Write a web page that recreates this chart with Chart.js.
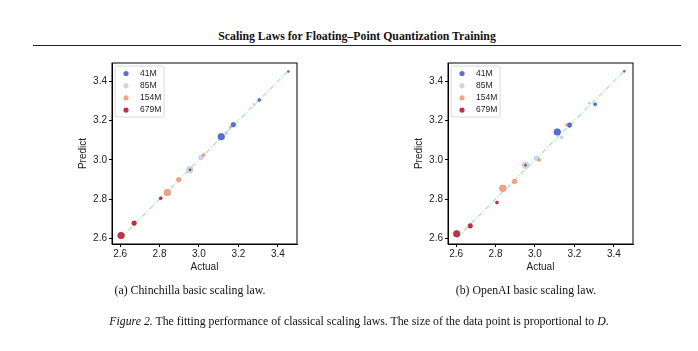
<!DOCTYPE html>
<html>
<head>
<meta charset="utf-8">
<script src="https://cdn.jsdelivr.net/npm/chart.js@4.4.1/dist/chart.umd.min.js"></script>
<style>
  body { margin: 0; background: #fff; width: 698px; height: 351px; position: relative; overflow: hidden; }
  .serif { font-family: "Liberation Serif", "DejaVu Serif", serif; color: #111; position: absolute; white-space: nowrap; }
  #title { left: 33px; width: 648px; top: 29px; text-align: center; font-weight: bold; font-size: 11.8px; }
  #rule { position: absolute; left: 33px; width: 648px; top: 45px; height: 1.3px; background: #222; }
  .cap { font-size: 11.8px; top: 283px; transform: translateX(-50%); }
  #fig { left: 359px; top: 314px; font-size: 11.8px; transform: translateX(-50%); }
  canvas { position: absolute; }
</style>
</head>
<body>
<div id="title" class="serif">Scaling Laws for Floating–Point Quantization Training</div>
<div id="rule"></div>
<canvas id="chartA" width="247" height="229" style="left:60px; top:55px; width:247px; height:229px;"></canvas>
<canvas id="chartB" width="247" height="229" style="left:396px; top:55px; width:247px; height:229px;"></canvas>
<div class="serif cap" style="left:190px;">(a) Chinchilla basic scaling law.</div>
<div class="serif cap" style="left:526px;">(b) OpenAI basic scaling law.</div>
<div id="fig" class="serif"><i>Figure 2.</i> The fitting performance of classical scaling laws. The size of the data point is proportional to <i>D</i>.</div>

<script>
// model sizes (legend) and their colours
const models = ['41M', '85M', '154M', '679M'];
const modelColors = ['#5a6fd1', '#cdd7ee', '#f2a487', '#c3304a'];
const edgeColors = ['#3d52b8', '#aebde0', '#e08866', '#a61f38'];

// marker radius for each data size D (smallest -> largest)
const dataSizes = [1.0, 1.5, 2.3, 3.3];

// (a) Chinchilla: actual / predicted loss per model, ordered by D
const chinActual = [
  [3.453, 3.306, 3.174, 3.113],
  [3.280, 3.138, 3.010, 2.953],
  [3.160, 3.023, 2.897, 2.840],
  [2.955, 2.806, 2.671, 2.605]
];
const chinPredict = [
  [3.450, 3.305, 3.179, 3.118],
  [3.282, 3.137, 3.012, 2.950],
  [3.167, 3.025, 2.899, 2.834],
  [2.950, 2.805, 2.678, 2.615]
];

// (b) OpenAI
const oaiActual = [
  [3.453, 3.305, 3.175, 3.113],
  [3.276, 3.135, 3.008, 2.952],
  [3.160, 3.021, 2.896, 2.837],
  [2.952, 2.807, 2.672, 2.603]
];
const oaiPredict = [
  [3.451, 3.283, 3.177, 3.142],
  [3.288, 3.115, 3.008, 2.973],
  [3.179, 3.000, 2.890, 2.855],
  [2.973, 2.783, 2.664, 2.624]
];

// y = x reference line ends
const diagLine = [2.605, 3.455];

const xRange = [2.559, 3.497];
const yRange = [2.572, 3.493];
const tickVals = [2.6, 2.8, 3.0, 3.2, 3.4];

const tickFont = { family: '"Liberation Sans", Arial, sans-serif', size: 10 };

// frame around plot + legend inside the top-left corner
const framePlugin = {
  id: 'frame',
  afterDraw(chart) {
    const { ctx, chartArea: a } = chart;
    ctx.save();
    ctx.strokeStyle = '#000';
    ctx.lineWidth = 1;
    ctx.strokeRect(a.left, a.top, a.right - a.left, a.bottom - a.top);

    // legend box
    const bx = a.left + 3, by = a.top + 3, bw = 49, bh = 51;
    ctx.fillStyle = 'rgba(255,255,255,0.85)';
    ctx.strokeStyle = '#d0d0d0';
    ctx.lineWidth = 0.8;
    ctx.beginPath();
    ctx.roundRect(bx, by, bw, bh, 2);
    ctx.fill();
    ctx.stroke();
    ctx.font = '8.5px "Liberation Sans", Arial, sans-serif';
    ctx.textBaseline = 'middle';
    models.forEach((m, i) => {
      const y = by + 7.5 + i * 12.2;
      ctx.fillStyle = modelColors[i];
      ctx.beginPath();
      ctx.arc(bx + 11, y, 2.6, 0, Math.PI * 2);
      ctx.fill();
      ctx.fillStyle = '#222';
      ctx.fillText(m, bx + 25, y);
    });
    ctx.restore();
  }
};

function buildChart(id, actual, predict) {
  const datasets = [];
  models.forEach((m, i) => {
    datasets.push({
      type: 'scatter',
      label: m,
      data: actual[i].map((x, j) => ({ x: x, y: predict[i][j] })),
      backgroundColor: modelColors[i],
      borderColor: edgeColors[i],
      borderWidth: 0.6,
      pointRadius: dataSizes,
      order: models.length - 1 - i
    });
  });
  datasets.push({
    type: 'line',
    label: 'fit',
    data: diagLine.map(v => ({ x: v, y: v })),
    borderColor: '#98ec98',
    borderWidth: 1.1,
    borderDash: [5, 2, 1, 2],
    pointRadius: 0,
    order: 10
  });

  new Chart(document.getElementById(id).getContext('2d'), {
    type: 'scatter',
    data: { datasets },
    options: {
      responsive: false,
      animation: false,
      layout: { padding: { top: 8, right: 10, left: 0, bottom: 0 } },
      plugins: { legend: { display: false }, tooltip: { enabled: false } },
      scales: {
        x: {
          type: 'linear',
          min: xRange[0], max: xRange[1],
          afterBuildTicks: s => { s.ticks = tickVals.map(v => ({ value: v })); },
          afterFit: s => { s.height = 40; },
          ticks: { font: tickFont, color: '#222', padding: 1, callback: v => v.toFixed(1) },
          grid: { drawOnChartArea: false, drawTicks: true, tickLength: 3, color: '#000' },
          border: { display: true, color: '#000' },
          title: { display: true, text: 'Actual', font: tickFont, color: '#222', padding: { top: 0, bottom: 11 } }
        },
        y: {
          type: 'linear',
          min: yRange[0], max: yRange[1],
          afterBuildTicks: s => { s.ticks = tickVals.map(v => ({ value: v })); },
          afterFit: s => { s.width = 52; },
          ticks: { font: tickFont, color: '#222', padding: 2, callback: v => v.toFixed(1) },
          grid: { drawOnChartArea: false, drawTicks: true, tickLength: 3, color: '#000' },
          border: { display: true, color: '#000' },
          title: { display: true, text: 'Predict', font: tickFont, color: '#222', padding: { top: 17, bottom: 0 } }
        }
      }
    },
    plugins: [framePlugin]
  });
}

buildChart('chartA', chinActual, chinPredict);
buildChart('chartB', oaiActual, oaiPredict);
</script>
</body>
</html>
